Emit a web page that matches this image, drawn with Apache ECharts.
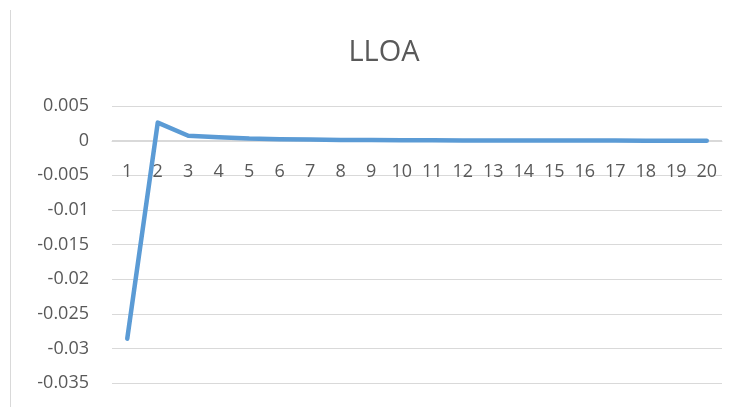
<!DOCTYPE html>
<html>
<head>
<meta charset="utf-8">
<script src="https://cdn.jsdelivr.net/npm/echarts@6/dist/echarts.min.js"></script>
<style>
    html, body { margin: 0; padding: 0; background: #fff; }
    #chart { width: 739px; height: 407px; }
    .frame { position: absolute; left: 10px; top: 10px; width: 1px; height: 397px; background: #d9d9d9; }
</style>
</head>
<body>
<div class="frame"></div>
<div id="chart"></div>
<script>
// x categories and series values
const periods = ["1", "2", "3", "4", "5", "6", "7", "8", "9", "10",
    "11", "12", "13", "14", "15", "16", "17", "18", "19", "20"];
const lloa = [-0.0286, 0.0026, 0.0007, 0.0005, 0.0003, 0.0002, 0.00015, 0.0001, 0.00008, 0.00006,
    0.00004, 0.00003, 0.00002, 0.00002, 0.00001, 0.00001, 0.00001, 0, 0, 0];

const chart = echarts.init(document.getElementById("chart"));

const labelColor = "#595959";
const gridColor = "#d9d9d9";

// grid: top 106, bottom 383 -> zero line sits 242px above the bottom edge
chart.setOption({
    animation: false,
    title: {
        text: "LLOA",
        left: 379,
        textAlign: "center",
        top: 33,
        textStyle: { color: labelColor, fontSize: 29, fontWeight: "normal", fontFamily: "Open Sans" },
    },
    grid: {
        left: 112,
        right: 17,
        top: 106,
        bottom: 24,
    },
    xAxis: {
        type: "category",
        data: periods,
        boundaryGap: true,
        offset: -242,
        axisLine: { onZero: false, lineStyle: { color: gridColor, width: 1 } },
        axisTick: { show: false },
        axisLabel: { color: labelColor, fontSize: 18, fontFamily: "Open Sans", margin: 22, interval: 0 },
    },
    yAxis: {
        type: "value",
        min: -0.035,
        max: 0.005,
        interval: 0.005,
        axisLine: { show: false },
        axisTick: { show: false },
        axisLabel: { color: labelColor, fontSize: 18, fontFamily: "Open Sans", margin: 23 },
        splitLine: { lineStyle: { color: gridColor, width: 1 } },
    },
    series: [
        {
            name: "LLOA",
            type: "line",
            data: lloa,
            symbol: "none",
            lineStyle: { color: "#5b9bd5", width: 4.5, cap: "round", join: "round" },
        },
    ],
});
</script>
</body>
</html>
